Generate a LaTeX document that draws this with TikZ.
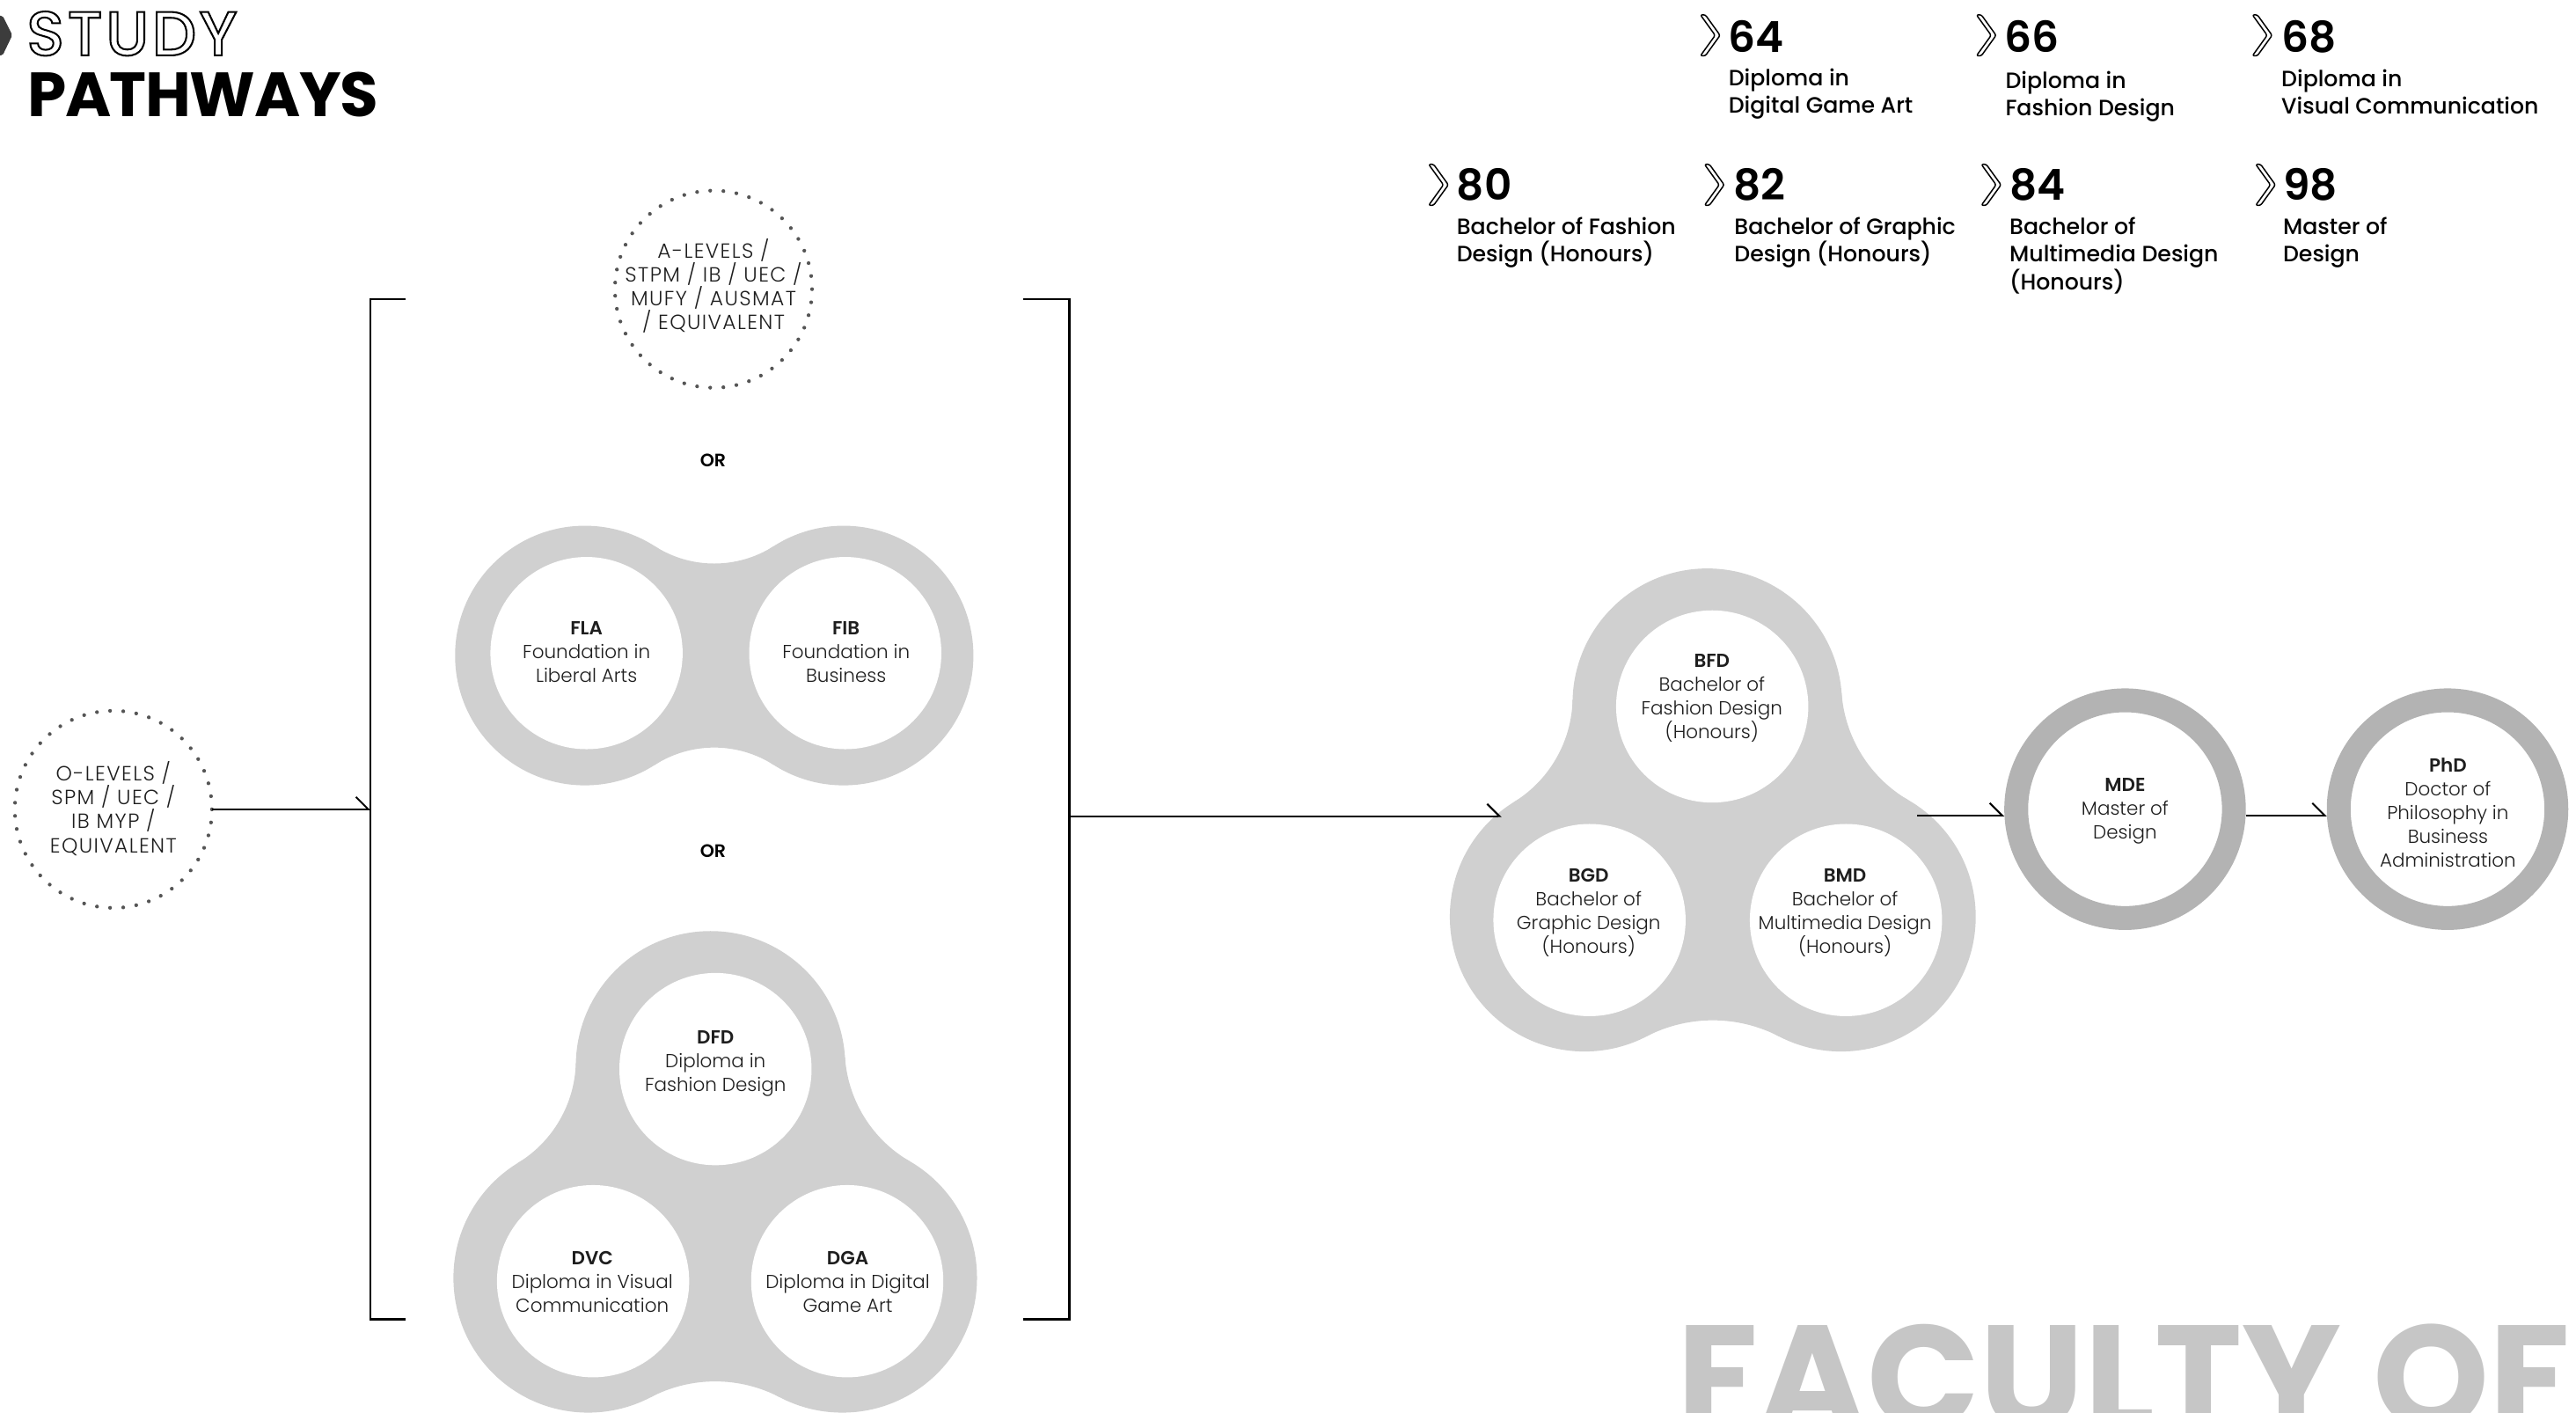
\documentclass[tikz,border=0pt]{standalone}
\usepackage{fontspec}
\setmainfont{Poppins}
\IfFontExistsTF{Poppins Light}{\newfontfamily\plight{Poppins Light}}{\newfontfamily\plight{Poppins}}
\IfFontExistsTF{Poppins Medium}{\newfontfamily\pmed{Poppins Medium}}{\newfontfamily\pmed{Poppins}}
\IfFontExistsTF{Poppins SemiBold}{\newfontfamily\psemi{Poppins SemiBold}}{\newcommand\psemi{\bfseries}}
\usetikzlibrary{arrows.meta}
\definecolor{lobegray}{HTML}{D0D0D0}
\definecolor{ringgray}{HTML}{B3B3B3}
\definecolor{dotgray}{HTML}{555555}
\definecolor{facgray}{HTML}{C6C6C6}
\definecolor{chevgray}{HTML}{3C3C3C}
\definecolor{txt}{HTML}{1E1E1E}

\newcommand\lobebridge[6]{%
 \pgfmathsetmacro\bdx{#3-(#1)}%
 \pgfmathsetmacro\bdy{#4-(#2)}%
 \pgfmathsetmacro\bD{veclen(\bdx,\bdy)}%
 \pgfmathsetmacro\bang{atan2(\bdy,\bdx)}%
 \pgfmathsetmacro\bhalf{\bD/2}%
 \pgfmathsetmacro\brc{(\bhalf*\bhalf+#6*#6-#5*#5)/(2*(#5-#6))}%
 \pgfmathsetmacro\bbeta{atan2(#6+\brc,\bhalf)}%
 \pgfmathsetmacro\bk{#5/(#5+\brc)}%
 \pgfmathsetmacro\btx{\bk*\bhalf}%
 \pgfmathsetmacro\bty{\bk*(#6+\brc)}%
 \pgfmathsetmacro\bsx{\bD-\btx}%
 \fill[shift={(#1,#2)},rotate=\bang] (\btx,\bty) arc[start angle=180+\bbeta,end angle=360-\bbeta,radius=\brc] -- (\bsx,-\bty) arc[start angle=\bbeta,end angle=180-\bbeta,radius=\brc] -- cycle;%
}
\newcommand\numchev[2]{\draw[chevst] (#1,-#2) -- ++(3,0) -- ++(9,-12.5) -- ++(-9,-12.5) -- ++(-3,0) -- ++(9,12.5) -- cycle;}
\newcommand\outlinetext[1]{\special{pdf:literal direct 1 Tr 1.1 w}#1\special{pdf:literal direct 0 Tr}}

\begin{document}
\begin{tikzpicture}[x=1pt,y=1pt,
 arr/.style={line width=1.1pt,-{Straight Barb[left,length=7.5pt,width=15pt]}},
 brk/.style={line width=1.3pt},
 hole/.style={circle,fill=white,minimum size=117pt,inner sep=0pt},
 ring/.style={circle,draw=ringgray,line width=14.5pt,minimum size=132.5pt,inner sep=0pt,outer sep=7.25pt},
 dotc/.style={circle,draw=dotgray,line width=2.3pt,line cap=round,dash pattern=on 0pt off 8.0213pt,minimum size=120pt,inner sep=0pt,outer sep=0pt},
 ctext/.style={align=center,inner sep=0pt,text=txt,font=\plight\fontsize{11.5}{14.5}\selectfont,execute at begin node={\rule{0pt}{1.05em}},execute at end node={\rule[-0.35em]{0pt}{0pt}}},
 qtext/.style={ctext,font=\plight\addfontfeatures{LetterSpace=6}\fontsize{12.5}{14.5}\selectfont},
 ortext/.style={inner sep=0pt,font=\psemi\fontsize{11}{13}\selectfont},
 numtext/.style={anchor=base west,inner sep=0pt,font=\psemi\fontsize{26}{30}\selectfont},
 desc/.style={anchor=north west,align=left,inner sep=0pt,font=\pmed\fontsize{13.5}{16.8}\selectfont,execute at begin node={\rule{0pt}{1.05em}}},
 chevst/.style={draw=black,fill=white,line width=0.8pt,rounded corners=1.2pt,line join=round},
]
\useasboundingbox (0,0) rectangle (1568,-860);
\clip (0,0) rectangle (1568,-860);

% ---------- grey lobe shapes ----------
\begin{scope}[fill=lobegray]
 % foundations (two lobes)
 \fill (356,-399) circle (79) (513.5,-399) circle (79);
 \lobebridge{356}{-399}{513.5}{-399}{79}{56}
 % diplomas (three lobes)
 \fill (432.5,-648.7) circle (82) (358,-777.8) circle (82) (512.7,-777.8) circle (82);
 \fill (432.5,-648.7) -- (358,-777.8) -- (512.7,-777.8) -- cycle;
 \lobebridge{432.5}{-648.7}{358}{-777.8}{82}{63}
 \lobebridge{358}{-777.8}{512.7}{-777.8}{82}{63}
 \lobebridge{512.7}{-777.8}{432.5}{-648.7}{82}{63}
 % bachelors (three lobes)
 \fill (1039.2,-428) circle (82) (964.5,-558) circle (82) (1120.6,-558) circle (82);
 \fill (1039.2,-428) -- (964.5,-558) -- (1120.6,-558) -- cycle;
 \lobebridge{1039.2}{-428}{964.5}{-558}{82}{63}
 \lobebridge{964.5}{-558}{1120.6}{-558}{82}{63}
 \lobebridge{1120.6}{-558}{1039.2}{-428}{82}{63}
\end{scope}

% ---------- white holes ----------
\node[hole] (fla) at (357,-397.5) {};
\node[hole] (fib) at (514.5,-397.5) {};
\node[hole] (dfd) at (435.5,-650.7) {};
\node[hole] (dvc) at (361,-779.8) {};
\node[hole] (dga) at (515.7,-779.8) {};
\node[hole] (bfd) at (1042.2,-430) {};
\node[hole] (bgd) at (967.5,-560) {};
\node[hole] (bmd) at (1123.6,-560) {};

% ---------- rings ----------
\node[ring] (mde) at (1293.5,-492.5) {};
\node[ring] (phd) at (1489.8,-492.5) {};

% ---------- dotted entry circles ----------
\node[dotc] (olev) at (69,-492.6) {};
\node[dotc] (alev) at (434.3,-176) {};
\node[qtext] (olevt) at (69,-493.5) {O-LEVELS /\\SPM / UEC /\\IB MYP /\\EQUIVALENT};
\node[qtext] (alevt) at (434.3,-175) {A-LEVELS /\\STPM / IB / UEC /\\MUFY / AUSMAT\\/ EQUIVALENT};

% ---------- labels in circles ----------
\node[ctext] (flat) at (357,-399) {{\psemi FLA}\\Foundation in\\Liberal Arts};
\node[ctext] (fibt) at (515,-399) {{\psemi FIB}\\Foundation in\\Business};
\node[ctext] (dfdt) at (435.5,-648) {{\psemi DFD}\\Diploma in\\Fashion Design};
\node[ctext] (dvct) at (360.5,-782) {{\psemi DVC}\\Diploma in Visual\\Communication};
\node[ctext] (dgat) at (516,-782) {{\psemi DGA}\\Diploma in Digital\\Game Art};
\node[ctext] (bfdt) at (1042,-425.7) {{\psemi BFD}\\Bachelor of\\Fashion Design\\(Honours)};
\node[ctext] (bgdt) at (967,-556.5) {{\psemi BGD}\\Bachelor of\\Graphic Design\\(Honours)};
\node[ctext] (bmdt) at (1123,-556.5) {{\psemi BMD}\\Bachelor of\\Multimedia Design\\(Honours)};
\node[ctext] (mdet) at (1293.5,-494) {{\psemi MDE}\\Master of\\Design};
\node[ctext] (phdt) at (1490,-496.5) {{\psemi PhD}\\Doctor of\\Philosophy in\\Business\\Administration};

\node[ortext] (or1) at (434,-280) {OR};
\node[ortext] (or2) at (434,-518) {OR};

% ---------- brackets ----------
\draw[brk] (247,-182) -- (225.5,-182) -- (225.5,-803) -- (247,-803);
\draw[brk] (623,-182) -- (651,-182) -- (651,-803) -- (623,-803);

% ---------- connectors ----------
\coordinate (lbr) at (225.5,-492.6);
\coordinate (rbr) at (651,-496.8);
\coordinate (bachin) at (914,-496.8);
\coordinate (bachout) at (1167,-496.3);
\draw[arr] (olev.east) -- (lbr);
\draw[arr] (rbr) -- (bachin);
\draw[arr] (bachout) -- (bachout -| mde.west);
\draw[arr] (bachout -| mde.east) -- (bachout -| phd.west);

% ---------- page references ----------
\numchev{1035}{9}
\numchev{1203}{9}
\numchev{1371}{9}
\numchev{869.6}{100}
\numchev{1037.5}{100}
\numchev{1206}{100}
\numchev{1373}{100}
\node[numtext] (n64) at (1052,-31.6) {64};
\node[numtext] (n66) at (1220,-31.6) {66};
\node[numtext] (n68) at (1388.5,-31.6) {68};
\node[numtext] (n80) at (886.5,-122) {80};
\node[numtext] (n82) at (1055,-122) {82};
\node[numtext] (n84) at (1223,-122) {84};
\node[numtext] (n98) at (1389.5,-122) {98};
\node[desc] (d64) at (1052,-41.5) {Diploma in\\Digital Game Art};
\node[desc] (d66) at (1220.5,-43) {Diploma in\\Fashion Design};
\node[desc] (d68) at (1388.5,-42) {Diploma in\\Visual Communication};
\node[desc] (d80) at (886.5,-132) {Bachelor of Fashion\\Design (Honours)};
\node[desc] (d82) at (1055.5,-132) {Bachelor of Graphic\\Design (Honours)};
\node[desc] (d84) at (1223,-132) {Bachelor of\\Multimedia Design\\(Honours)};
\node[desc] (d98) at (1389.5,-132) {Master of\\Design};

% ---------- big faded faculty text ----------
\node[anchor=base west,inner sep=0pt,text=facgray,font=\bfseries\fontsize{90}{95}\selectfont] (fac) at (1021,-870) {FACULTY OF};

% ---------- title ----------
\fill[chevgray,rounded corners=1pt] (-3,-9.6) -- (1.6,-9.6) -- (7.5,-21.4) -- (1.6,-33.7) -- (-3,-33.7) -- cycle;
\node[anchor=base west,inner sep=0pt,font=\bfseries\addfontfeatures{LetterSpace=-2}\fontsize{38}{40}\selectfont] (path) at (16.5,-71.2) {PATHWAYS};
\node[anchor=base west,inner sep=0pt,font=\pmed\addfontfeatures{LetterSpace=5}\fontsize{38}{40}\selectfont] (study) at (16,-33.7) {\outlinetext{STUDY}};
\end{tikzpicture}
\end{document}
